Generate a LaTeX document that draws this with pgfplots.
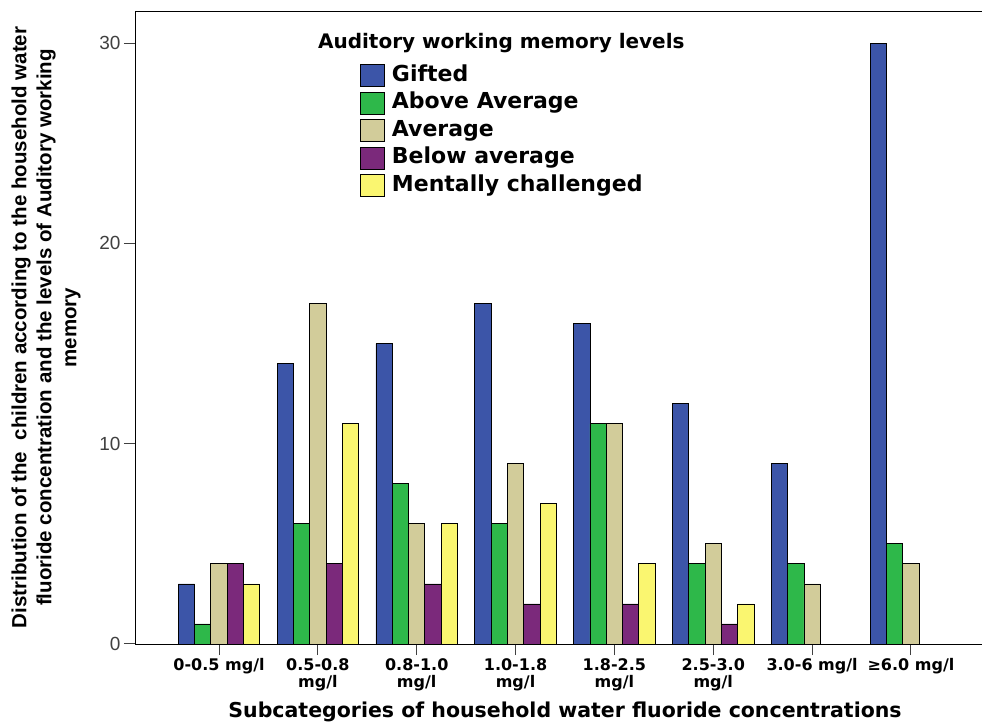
\documentclass[border=0pt]{standalone}
\usepackage{fontspec}
\usepackage{pgfplots}
\pgfplotsset{compat=1.18}
\newfontfamily\dvs{DejaVu Sans}
\newfontfamily\lib{Liberation Sans}
\definecolor{cGift}{RGB}{60,85,168}
\definecolor{cAbove}{RGB}{46,184,74}
\definecolor{cAvg}{RGB}{210,204,154}
\definecolor{cBelow}{RGB}{123,41,123}
\definecolor{cMental}{RGB}{250,246,112}
\pgfplotsset{sqlegend/.style={legend image code/.code={\draw[##1,line width=0.9pt] (0pt,-11pt) rectangle (24pt,11pt);}}}
\begin{document}
\begin{tikzpicture}
\useasboundingbox (0,0) rectangle (982pt,725pt);
\begin{axis}[
  at={(135pt,81pt)}, anchor=south west,
  scale only axis, width=855pt, height=633pt,
  xmin=-0.85, xmax=7.8,
  ymin=0, ymax=31.6,
  ybar=0pt, bar width=16.3pt,
  xtick={0,...,7},
  xticklabels={0-0.5 mg/l,{0.5-0.8\\mg/l},{0.8-1.0\\mg/l},{1.0-1.8\\mg/l},{1.8-2.5\\mg/l},{2.5-3.0\\mg/l},3.0-6 mg/l,{≥6.0 mg/l}},
  ytick={0,10,20,30},
  tick align=outside, xtick pos=bottom, ytick pos=left,
  major tick length=11pt,
  tick style={black!75, line width=1pt},
  axis line style={black, line width=0.9pt},
  /pgf/number format/assume math mode=true,
  yticklabel style={font=\lib\fontsize{19}{22}\selectfont, text=black!75},
  xticklabel style={font=\dvs\bfseries\fontsize{16}{17}\selectfont, align=center},
  xlabel={Subcategories of household water fluoride concentrations},
  xlabel style={at={(axis description cs:0.503,-0.107)}, anchor=center, font=\dvs\bfseries\fontsize{20.5}{24}\selectfont},
  ylabel={Distribution of the~ children according to the household water\\fluoride concentration and the levels of Auditory working\\memory},
  ylabel style={at={(axis description cs:-0.104,0.5)}, anchor=center, align=center, font=\lib\bfseries\fontsize{20.5}{25}\selectfont},
  legend style={at={(axis description cs:0.263,0.916)}, anchor=north west, draw=none, fill=none, inner sep=0pt,
    font=\dvs\bfseries\fontsize{22}{26}\selectfont, row sep=4.5pt, column sep=5pt,
    nodes={text height=15pt, text depth=4pt, inner sep=2pt}},
  legend cell align=left,
]
\addplot[fill=cGift, draw=black, line width=0.8pt, sqlegend] coordinates {(0,3)(1,14)(2,15)(3,17)(4,16)(5,12)(6,9)(7,30)};
\addlegendentry{Gifted}
\addplot[fill=cAbove, draw=black, line width=0.8pt, sqlegend] coordinates {(0,1)(1,6)(2,8)(3,6)(4,11)(5,4)(6,4)(7,5)};
\addlegendentry{Above Average}
\addplot[fill=cAvg, draw=black, line width=0.8pt, sqlegend] coordinates {(0,4)(1,17)(2,6)(3,9)(4,11)(5,5)(6,3)(7,4)};
\addlegendentry{Average}
\addplot[fill=cBelow, draw=black, line width=0.8pt, sqlegend] coordinates {(0,4)(1,4)(2,3)(3,2)(4,2)(5,1)};
\addlegendentry{Below average}
\addplot[fill=cMental, draw=black, line width=0.8pt, sqlegend] coordinates {(0,3)(1,11)(2,6)(3,7)(4,4)(5,2)};
\addlegendentry{Mentally challenged}
\node[anchor=west, font=\dvs\bfseries\fontsize{20}{24}\selectfont] at (axis description cs:0.21,0.949) {Auditory working memory levels};
\end{axis}
\end{tikzpicture}
\end{document}
